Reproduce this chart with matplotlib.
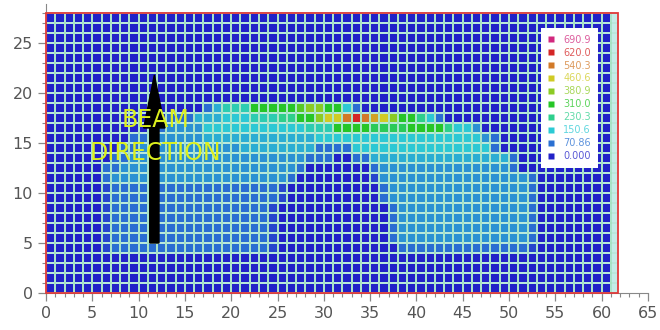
import numpy as np
import matplotlib.pyplot as plt
from matplotlib.colors import LinearSegmentedColormap, to_rgb
from matplotlib.lines import Line2D
from matplotlib.patches import Rectangle

# legend levels (bottom to top)
level_values = [0.0, 70.86, 150.6, 230.3, 310.0, 380.9, 460.6, 540.3, 620.0, 690.9]
level_labels = ['0.000', '70.86', '150.6', '230.3', '310.0',
                '380.9', '460.6', '540.3', '620.0', '690.9']
level_colors = ['#2222c8', '#2a70d2', '#2ccad4', '#2ecf8c', '#26c626',
                '#8ccb24', '#d0cb24', '#d27a28', '#d42626', '#d2287e']

# value of each cell code
cell_codes = {'.': 0, 'a': 35, 'b': 70, 'c': 100, 'd': 125, 'e': 150,
              'f': 190, 'g': 230, 'h': 270, 'i': 310, 'j': 345, 'k': 380,
              'l': 420, 'm': 460, 'n': 500, 'o': 540, 'p': 620, 'q': 690}

# map rows, top (y=27) to bottom (y=0), 61 columns each
empty = '.' * 61
field_rows = [empty] * 9 + [
    '.' * 17 + 'bdfffiiiiijkkiieb' + '.' * 27,                                   # y=18
    '.' * 13 + 'bbbdddeeefffggiikmmoponmkiigeb' + '.' * 18,                      # y=17
    '.' * 11 + 'bbcccc' + 'e' * 11 + 'fffiiiihhhhiiiigeec' + '.' * 14,           # y=16
    '.' * 9 + 'bbcccccc' + 'd' * 12 + 'e' * 18 + 'cb' + '.' * 12,                # y=15
    '.' * 8 + 'bb' + 'c' * 11 + 'd' * 8 + 'bbbb' + 'e' * 15 + 'b' + '.' * 12,    # y=14
    '.' * 7 + 'bb' + 'c' * 19 + 'bbb..bb' + 'd' * 15 + 'b' + '.' * 10,          # y=13
    '.' * 6 + 'bb' + 'c' * 19 + 'b' + '.' * 7 + 'b' + 'c' * 14 + 'b' + '.' * 10, # y=12
    '.' * 6 + 'b' + 'c' * 19 + 'b' + '.' * 8 + 'a' + 'c' * 16 + 'b' + '.' * 8,  # y=11
    '.' * 6 + 'a' + 'b' * 18 + 'a' + '.' * 10 + 'b' + 'c' * 15 + 'b' + '.' * 8, # y=10
    '.' * 6 + 'a' + 'b' * 18 + 'a' + '.' * 10 + 'b' + 'c' * 15 + 'b' + '.' * 8, # y=9
    '.' * 6 + 'a' + 'b' * 17 + 'a' + '.' * 12 + 'b' + 'c' * 14 + 'b' + '.' * 8, # y=8
    '.' * 6 + 'a' + 'b' * 17 + 'a' + '.' * 12 + 'b' + 'c' * 14 + 'b' + '.' * 8, # y=7
    '.' * 6 + 'a' + 'b' * 17 + 'a' + '.' * 12 + 'b' + 'c' * 14 + 'b' + '.' * 8, # y=6
    '.' * 6 + 'a' + 'b' * 17 + 'a' + '.' * 12 + 'b' + 'c' * 14 + 'b' + '.' * 8, # y=5
    '.' * 6 + 'a' + 'b' * 17 + 'a' + '.' * 13 + 'b' * 14 + 'a' + '.' * 8,       # y=4
] + [empty] * 4

grid = np.array([[cell_codes[ch] for ch in row.ljust(61, '.')[:61]]
                 for row in field_rows[::-1]], dtype=float)
ny, nx = grid.shape

vmax = level_values[-1]
cmap = LinearSegmentedColormap.from_list(
    'dose', list(zip(np.array(level_values) / vmax, level_colors)))

fig = plt.figure(figsize=(6.6, 3.3), dpi=100)
ax = fig.add_axes([0.0697, 0.1121, 0.912, 0.876])

line_col = '#c4ece8'
ax.pcolormesh(np.arange(nx + 1), np.arange(ny + 1), grid, cmap=cmap,
              vmin=0, vmax=vmax, edgecolors=line_col, linewidth=1.1)
ax.add_patch(Rectangle((nx, 0), 0.75, ny, facecolor=line_col, edgecolor='none'))
ax.vlines(np.arange(nx + 1), 0, ny, colors='#5ccc6c', lw=0.35)
ax.hlines(np.arange(ny + 1), 0, nx + 0.75, colors='#9adcb4', lw=0.35)
ax.add_patch(Rectangle((0, 0), nx + 0.75, ny, fill=False, edgecolor='#e03a3a',
                       lw=1.3, zorder=5, clip_on=False))

# beam arrow and label
ax.arrow(11.7, 5, 0, 16.8, width=1.0, head_width=2.3, head_length=5.3,
         length_includes_head=True, color='black', zorder=6)
ax.text(11.8, 17.3, 'BEAM', ha='center', va='center', fontsize=17,
        color='#dcf01e', zorder=7)
ax.text(11.8, 14.0, 'DIRECTION', ha='center', va='center', fontsize=17,
        color='#dcf01e', zorder=7)

ax.set_xlim(0, 65)
ax.set_ylim(0, 28.9)
for s in ['top', 'right']:
    ax.spines[s].set_visible(False)
for s in ['left', 'bottom']:
    ax.spines[s].set_color('#888888')
ax.set_xticks(np.arange(0, 66, 5))
ax.set_xticks(np.arange(0, 66), minor=True)
ax.set_yticks(np.arange(0, 26, 5))
ax.set_yticks(np.arange(0, 29), minor=True)
ax.tick_params(which='major', length=6, width=0.9, color='#888888',
               labelsize=11.5, labelcolor='#555555')
ax.tick_params(which='minor', length=3, width=0.8, color='#888888')

# legend
text_colors = [tuple(0.75 * np.array(to_rgb(c)) + 0.25) for c in level_colors]
handles = [Line2D([], [], marker='s', ls='none', markersize=4.5,
                  markerfacecolor=c, markeredgecolor='none')
           for c in level_colors[::-1]]
ax.legend(handles, level_labels[::-1], loc='upper left',
          bbox_to_anchor=(0.822, 0.917), frameon=True, facecolor='white',
          edgecolor='none', framealpha=1, fancybox=False, fontsize=7,
          labelcolor=text_colors[::-1], handlelength=0.8, handletextpad=0.8,
          labelspacing=0.3, borderpad=0.7, borderaxespad=0)

fig.savefig('out.png', dpi=100)
